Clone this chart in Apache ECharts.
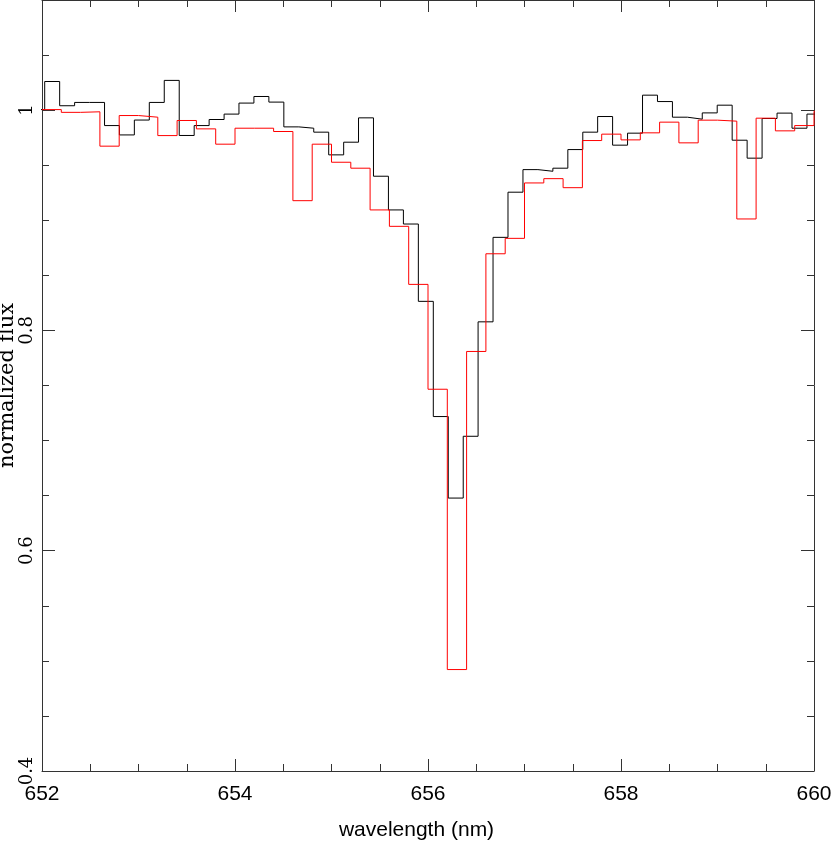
<!DOCTYPE html>
<html><head><meta charset="utf-8">
<script src="https://cdn.jsdelivr.net/npm/echarts@6/dist/echarts.min.js"></script>
<style>html,body{margin:0;padding:0;background:#fff}#chart{width:831px;height:841px}</style>
</head><body><div id="chart"></div>
<script>
// bin left edges (+ final right edge), nm
const blackWavelength = [651.873, 652.028, 652.183, 652.338, 652.493, 652.648, 652.802, 652.957, 653.112, 653.267,
  653.422, 653.577, 653.732, 653.887, 654.041, 654.196, 654.351, 654.506, 654.661, 654.816,
  654.971, 655.126, 655.280, 655.435, 655.590, 655.745, 655.900, 656.055, 656.210, 656.365,
  656.519, 656.674, 656.829, 656.984, 657.139, 657.294, 657.449, 657.604, 657.758, 657.913,
  658.068, 658.223, 658.378, 658.533, 658.688, 658.842, 658.997, 659.152, 659.307, 659.462,
  659.617, 659.772, 659.927, 660.082];
const blackFlux = [1.0005, 1.026, 1.004, 1.007, 1.007, 0.986, 0.9775, 0.991, 1.007, 1.027,
  0.977, 0.986, 0.9915, 0.9964, 1.0064, 1.0124, 1.0073, 0.9848, 0.9836, 0.980,
  0.9594, 0.9709, 0.993, 0.940, 0.9094, 0.8966, 0.8264, 0.7218, 0.6478, 0.7039,
  0.8078, 0.8845, 0.9255, 0.946, 0.9445, 0.9473, 0.9642, 0.980, 0.9942, 0.9682,
  0.9791, 1.0136, 1.0078, 0.9936, 0.9918, 0.9975, 1.0045, 0.9727, 0.9564, 0.9924,
  0.9973, 0.9836, 0.9964];
const redWavelength = [652.0, 652.2, 652.4, 652.6, 652.8, 653.0, 653.2, 653.4, 653.6, 653.8,
  654.0, 654.2, 654.4, 654.6, 654.8, 655.0, 655.2, 655.4, 655.6, 655.8,
  656.0, 656.2, 656.4, 656.6, 656.8, 657.0, 657.2, 657.4, 657.6, 657.8,
  658.0, 658.2, 658.4, 658.6, 658.8, 659.0, 659.2, 659.4, 659.6, 659.8,
  660.0, 660.2];
const redFlux = [1.0005, 0.998, 0.9985, 0.9673, 0.9951, 0.9936, 0.9769, 0.9906, 0.983, 0.9691,
  0.9836, 0.9836, 0.9806, 0.9178, 0.9691, 0.9527, 0.9473, 0.9094, 0.8945, 0.8418,
  0.7466, 0.4921, 0.7809, 0.8696, 0.8836, 0.9339, 0.9378, 0.9296, 0.9724, 0.9782,
  0.973, 0.9794, 0.9891, 0.9703, 0.9909, 0.99, 0.9012, 0.9927, 0.9812, 0.986,
  0.999];
const xTickLabels = ['652', '654', '656', '658', '660'];
const yTickLabels = ['0.4', '0.6', '0.8', '1'];

function stepData(edges, vals) {
  return edges.map((x, i) => [x, vals[Math.min(i, vals.length - 1)]]);
}

const AX = '#333';
const xMin = 652, xMax = 660, yMin = 0.4, yMax = 1.1;

function xAxisDef(pos, interval, len, showLine, showLabel, extra) {
  return Object.assign({
    type: 'value', position: pos, min: xMin, max: xMax, interval: interval,
    axisLine: { show: showLine, onZero: false, lineStyle: { color: AX, width: 1 } },
    axisTick: { show: true, inside: true, length: len, lineStyle: { color: AX, width: 1 } },
    axisLabel: { show: showLabel, margin: 13, color: '#000', fontSize: 21, fontFamily: 'Liberation Sans',
      formatter: v => xTickLabels.includes(String(v)) ? String(v) : '' },
    splitLine: { show: false }
  }, extra || {});
}
function yAxisDef(pos, interval, len, showLine, showLabel, extra) {
  return Object.assign({
    type: 'value', position: pos, min: yMin, max: yMax, interval: interval,
    axisLine: { show: showLine, onZero: false, lineStyle: { color: AX, width: 1 } },
    axisTick: { show: true, inside: true, length: len, lineStyle: { color: AX, width: 1 } },
    axisLabel: { show: showLabel, rotate: 90, margin: 6, color: '#000', fontSize: 18, fontFamily: 'DejaVu Serif',
      showMaxLabel: false,
      formatter: v => { const s = String(Math.round(v * 100) / 100); return yTickLabels.includes(s) ? s : ''; } },
    splitLine: { show: false }
  }, extra || {});
}

const chart = echarts.init(document.getElementById('chart'), null, { renderer: 'canvas' });
chart.setOption({
  animation: false,
  backgroundColor: '#fff',
  grid: { left: 42, right: 17, top: 0, bottom: 70, containLabel: false, outerBoundsMode: 'none' },
  xAxis: [
    xAxisDef('bottom', 0.5, 7, true, false, {
      name: 'wavelength (nm)', nameLocation: 'middle', nameGap: 49, nameMoveOverlap: false,
      nameTextStyle: { color: '#000', fontSize: 21, fontFamily: 'Liberation Sans', padding: [0, 23, 0, 0] }
    }),
    xAxisDef('bottom', 2, 12, false, true),
    xAxisDef('top', 0.5, 7, true, false),
    xAxisDef('top', 2, 12, false, false)
  ],
  yAxis: [
    yAxisDef('left', 0.05, 7, true, false, {
      name: 'normalized flux', nameLocation: 'middle', nameGap: 24, nameRotate: 90, nameMoveOverlap: false,
      nameTextStyle: { color: '#000', fontSize: 21, fontFamily: 'DejaVu Serif' }
    }),
    yAxisDef('left', 0.2, 13, false, true),
    yAxisDef('right', 0.05, 7, true, false),
    yAxisDef('right', 0.2, 13, false, false)
  ],
  series: [
    { type: 'line', xAxisIndex: 0, yAxisIndex: 0, step: 'end', showSymbol: false, symbol: 'none', clip: true,
      data: stepData(blackWavelength, blackFlux), lineStyle: { color: '#000', width: 1 }, silent: true },
    { type: 'line', xAxisIndex: 0, yAxisIndex: 0, step: 'end', showSymbol: false, symbol: 'none', clip: true,
      data: stepData(redWavelength, redFlux), lineStyle: { color: '#ff0000', width: 1 }, silent: true }
  ]
});
</script></body></html>
